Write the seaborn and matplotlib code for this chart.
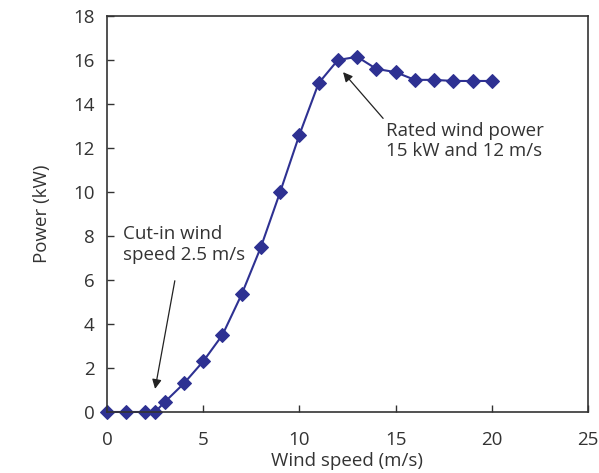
import matplotlib
matplotlib.use("Agg")
import matplotlib.pyplot as plt
import seaborn as sns
import pandas as pd

wind_speed = [0, 1, 2, 2.5, 3, 4, 5, 6, 7, 8, 9, 10, 11, 12, 13, 14, 15, 16, 17, 18, 19, 20]
power_kw = [0, 0, 0, 0, 0.45, 1.3, 2.3, 3.5, 5.35, 7.5, 10.0, 12.6, 14.95, 16.0, 16.15, 15.6, 15.45, 15.1, 15.1, 15.05, 15.05, 15.05]
x_ticks = [0, 5, 10, 15, 20, 25]
y_ticks = [0, 2, 4, 6, 8, 10, 12, 14, 16, 18]

sns.set_theme(style="white")
plt.rcParams['font.family'] = ['Open Sans', 'DejaVu Sans']

df = pd.DataFrame({"Wind speed (m/s)": wind_speed, "Power (kW)": power_kw})

fig = plt.figure(figsize=(5.99, 4.73), dpi=100)
ax = fig.add_axes([0.1786, 0.129, 0.803, 0.837])
color = "#2E3192"
sns.lineplot(data=df, x="Wind speed (m/s)", y="Power (kW)", ax=ax, color=color,
             marker="D", markersize=7, markeredgecolor=color, linewidth=1.5)

fs = 13.5
ax.set_xlim(0, 25)
ax.set_ylim(0, 18)
ax.set_xticks(x_ticks)
ax.set_yticks(y_ticks)
ax.tick_params(axis='both', direction='in', length=5, width=1, colors='#333333',
               labelsize=fs, labelcolor='#333333', bottom=True, left=True)
ax.tick_params(axis='x', pad=14)
ax.tick_params(axis='y', pad=9)
for s in ax.spines.values():
    s.set_color('#333333')
    s.set_linewidth(1.2)
ax.set_xlabel("Wind speed (m/s)", fontsize=fs, color='#333333', labelpad=2)
ax.set_ylabel("Power (kW)", fontsize=fs, color='#333333', labelpad=16)
for line in ax.lines:
    line.set_clip_on(False)

ax.annotate("Cut-in wind\nspeed 2.5 m/s", xy=(2.5, 1.05), xytext=(0.83, 8.5),
            fontsize=fs, color='#333333', va='top', ha='left', linespacing=1.2,
            arrowprops=dict(arrowstyle='-|>', color='#222222', lw=0.9,
                            mutation_scale=14, shrinkA=10, shrinkB=0,
                            relpos=(0.45, 0.0)))
ax.annotate("Rated wind power\n15 kW and 12 m/s", xy=(12.27, 15.45), xytext=(14.5, 13.2),
            fontsize=fs, color='#333333', va='top', ha='left', linespacing=1.2,
            arrowprops=dict(arrowstyle='-|>', color='#222222', lw=0.9,
                            mutation_scale=14, shrinkA=0, shrinkB=0,
                            relpos=(0.0, 1.0)))

fig.savefig("out.png", dpi=100)
